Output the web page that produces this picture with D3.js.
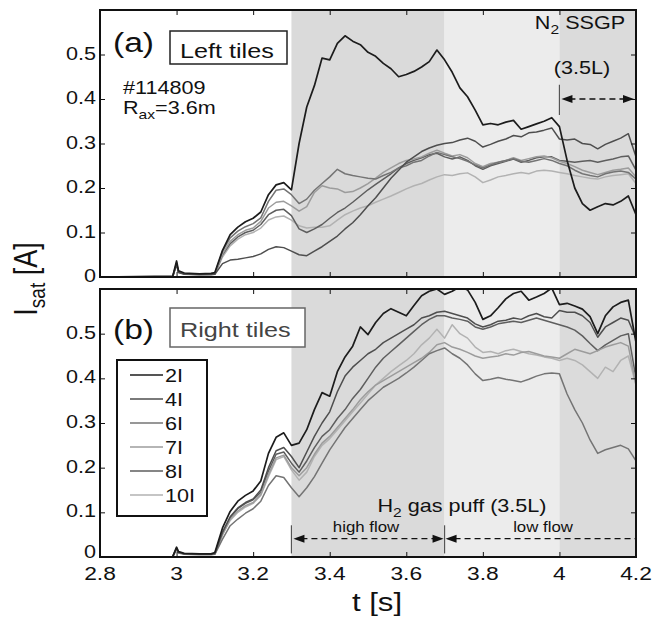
<!DOCTYPE html>
<html>
<head>
<meta charset="utf-8">
<script src="https://d3js.org/d3.v7.min.js"></script>
<style>
  body { margin: 0; background: #fff; }
  svg { display: block; font-family: 'Liberation Sans', Arial, sans-serif; }
  text { white-space: pre; }
</style>
</head>
<body>
<div id="chart"></div>
<script>
// time base (s): a few points before the rise, then 20 ms steps
const TIMES = [
  2.80, 2.99, 3.00, 3.005, 3.02, 3.06, 3.09,
  3.10, 3.12, 3.14, 3.16, 3.18, 3.20, 3.22, 3.24, 3.26, 3.28,
  3.30, 3.32, 3.34, 3.36, 3.38, 3.40, 3.42, 3.44, 3.46, 3.48,
  3.50, 3.52, 3.54, 3.56, 3.58, 3.60, 3.62, 3.64, 3.66, 3.68,
  3.70, 3.72, 3.74, 3.76, 3.78, 3.80, 3.82, 3.84, 3.86, 3.88,
  3.90, 3.92, 3.94, 3.96, 3.98, 4.00, 4.02, 4.04, 4.06, 4.08,
  4.10, 4.12, 4.14, 4.16, 4.18, 4.20
]

const PROBES = ['2I', '4I', '6I', '7I', '8I', '10I']
const PROBE_COLORS = ['#1c1c1c', '#4e4e4e', '#747474', '#9c9c9c', '#5e5e5e', '#b2b2b2']

// (a) left tiles, Isat [A]
const LEFT_2I = [
  0, 0.002, 0.036, 0.014, 0.009, 0.007, 0.008,
  0.010, 0.060, 0.095, 0.112, 0.124, 0.132, 0.146, 0.185, 0.207, 0.212,
  0.196, 0.300, 0.382, 0.430, 0.492, 0.488, 0.525, 0.542, 0.530, 0.522,
  0.505, 0.496, 0.480, 0.468, 0.450, 0.455, 0.462, 0.472, 0.484, 0.510,
  0.488, 0.460, 0.425, 0.405, 0.375, 0.342, 0.345, 0.342, 0.348, 0.352,
  0.332, 0.338, 0.344, 0.350, 0.358, 0.338, 0.262, 0.200, 0.165, 0.150,
  0.158, 0.165, 0.162, 0.170, 0.182, 0.140
]
const LEFT_4I = [
  0, 0.001, 0.028, 0.010, 0.006, 0.005, 0.005,
  0.006, 0.030, 0.038, 0.040, 0.043, 0.046, 0.052, 0.062, 0.068, 0.066,
  0.058, 0.050, 0.048, 0.058, 0.068, 0.080, 0.092, 0.108, 0.122, 0.140,
  0.160, 0.178, 0.200, 0.222, 0.240, 0.258, 0.270, 0.282, 0.290, 0.296,
  0.300, 0.302, 0.308, 0.312, 0.305, 0.292, 0.298, 0.305, 0.310, 0.318,
  0.315, 0.324, 0.326, 0.330, 0.335, 0.310, 0.308, 0.310, 0.300, 0.298,
  0.288, 0.298, 0.305, 0.312, 0.322, 0.270
]
const LEFT_6I = [
  0, 0.001, 0.032, 0.012, 0.008, 0.006, 0.007,
  0.008, 0.058, 0.088, 0.103, 0.113, 0.120, 0.133, 0.170, 0.195, 0.198,
  0.185, 0.165, 0.175, 0.195, 0.210, 0.225, 0.242, 0.232, 0.228, 0.225,
  0.222, 0.220, 0.228, 0.235, 0.245, 0.250, 0.258, 0.262, 0.272, 0.280,
  0.275, 0.270, 0.266, 0.260, 0.252, 0.245, 0.252, 0.258, 0.262, 0.266,
  0.260, 0.258, 0.262, 0.266, 0.262, 0.255, 0.250, 0.240, 0.232, 0.228,
  0.225, 0.232, 0.236, 0.238, 0.235, 0.220
]
const LEFT_7I = [
  0, 0.001, 0.030, 0.011, 0.007, 0.006, 0.006,
  0.007, 0.052, 0.080, 0.095, 0.105, 0.110, 0.125, 0.155, 0.168, 0.170,
  0.160, 0.148, 0.158, 0.190, 0.205, 0.200, 0.198, 0.190, 0.192, 0.200,
  0.210, 0.222, 0.235, 0.245, 0.255, 0.262, 0.265, 0.270, 0.278, 0.285,
  0.278, 0.272, 0.275, 0.268, 0.255, 0.248, 0.255, 0.258, 0.262, 0.268,
  0.262, 0.266, 0.270, 0.272, 0.268, 0.260, 0.255, 0.248, 0.240, 0.235,
  0.230, 0.235, 0.240, 0.242, 0.245, 0.225
]
const LEFT_8I = [
  0, 0.001, 0.030, 0.011, 0.007, 0.006, 0.006,
  0.007, 0.050, 0.075, 0.090, 0.100, 0.105, 0.118, 0.140, 0.150, 0.152,
  0.138, 0.108, 0.100, 0.108, 0.118, 0.132, 0.145, 0.155, 0.168, 0.182,
  0.196, 0.208, 0.220, 0.232, 0.245, 0.255, 0.262, 0.268, 0.275, 0.278,
  0.270, 0.265, 0.270, 0.262, 0.250, 0.242, 0.250, 0.255, 0.260, 0.265,
  0.258, 0.262, 0.268, 0.270, 0.270, 0.262, 0.260, 0.258, 0.260, 0.262,
  0.258, 0.262, 0.265, 0.270, 0.272, 0.240
]
const LEFT_10I = [
  0, 0.001, 0.029, 0.010, 0.007, 0.005, 0.006,
  0.006, 0.045, 0.070, 0.085, 0.095, 0.100, 0.110, 0.128, 0.135, 0.137,
  0.128, 0.115, 0.110, 0.112, 0.112, 0.115, 0.128, 0.140, 0.148, 0.155,
  0.160, 0.168, 0.175, 0.182, 0.190, 0.198, 0.205, 0.210, 0.218, 0.225,
  0.230, 0.228, 0.232, 0.234, 0.225, 0.212, 0.218, 0.225, 0.228, 0.232,
  0.235, 0.232, 0.238, 0.240, 0.238, 0.235, 0.232, 0.228, 0.225, 0.222,
  0.220, 0.225, 0.228, 0.230, 0.232, 0.210
]

// (b) right tiles, Isat [A]
const RIGHT_2I = [
  0, 0.001, 0.022, 0.012, 0.008, 0.007, 0.007,
  0.010, 0.065, 0.102, 0.125, 0.138, 0.148, 0.170, 0.232, 0.268, 0.278,
  0.250, 0.255, 0.285, 0.330, 0.368, 0.360, 0.415, 0.448, 0.472, 0.515,
  0.498, 0.525, 0.545, 0.556, 0.548, 0.540, 0.563, 0.585, 0.595, 0.600,
  0.588, 0.595, 0.605, 0.598, 0.570, 0.532, 0.540, 0.558, 0.578, 0.590,
  0.595, 0.575, 0.582, 0.590, 0.602, 0.565, 0.568, 0.562, 0.555, 0.538,
  0.500, 0.540, 0.560, 0.570, 0.575, 0.480
]
const RIGHT_4I = [
  0, 0.001, 0.020, 0.011, 0.007, 0.006, 0.006,
  0.008, 0.055, 0.090, 0.110, 0.122, 0.130, 0.150, 0.200, 0.238, 0.245,
  0.225, 0.200, 0.235, 0.270, 0.300, 0.325, 0.370, 0.405, 0.425, 0.440,
  0.455, 0.465, 0.480, 0.490, 0.500, 0.510, 0.520, 0.535, 0.540, 0.548,
  0.550, 0.545, 0.540, 0.535, 0.522, 0.515, 0.520, 0.528, 0.530, 0.535,
  0.532, 0.540, 0.545, 0.538, 0.535, 0.552, 0.548, 0.548, 0.540, 0.525,
  0.492, 0.515, 0.525, 0.535, 0.530, 0.490
]
const RIGHT_6I = [
  0, 0.001, 0.017, 0.009, 0.006, 0.005, 0.005,
  0.006, 0.040, 0.070, 0.085, 0.098, 0.108, 0.125, 0.160, 0.182, 0.178,
  0.155, 0.135, 0.155, 0.180, 0.210, 0.240, 0.265, 0.290, 0.310, 0.330,
  0.350, 0.365, 0.380, 0.390, 0.400, 0.412, 0.425, 0.440, 0.455, 0.462,
  0.468, 0.455, 0.445, 0.430, 0.410, 0.395, 0.398, 0.402, 0.398, 0.395,
  0.392, 0.398, 0.405, 0.410, 0.412, 0.410, 0.365, 0.330, 0.300, 0.262,
  0.232, 0.240, 0.245, 0.250, 0.242, 0.215
]
const RIGHT_7I = [
  0, 0.001, 0.018, 0.010, 0.007, 0.006, 0.006,
  0.007, 0.050, 0.085, 0.103, 0.115, 0.122, 0.140, 0.185, 0.222, 0.228,
  0.200, 0.182, 0.200, 0.230, 0.255, 0.270, 0.290, 0.310, 0.330, 0.352,
  0.370, 0.385, 0.395, 0.405, 0.415, 0.425, 0.435, 0.445, 0.458, 0.475,
  0.480, 0.470, 0.465, 0.458, 0.450, 0.445, 0.448, 0.450, 0.455, 0.452,
  0.458, 0.460, 0.455, 0.450, 0.448, 0.445, 0.455, 0.465, 0.460, 0.455,
  0.462, 0.470, 0.475, 0.480, 0.472, 0.385
]
const RIGHT_8I = [
  0, 0.001, 0.019, 0.010, 0.007, 0.006, 0.006,
  0.008, 0.055, 0.088, 0.108, 0.120, 0.128, 0.145, 0.192, 0.230, 0.235,
  0.210, 0.190, 0.215, 0.245, 0.270, 0.285, 0.310, 0.330, 0.355, 0.375,
  0.400, 0.425, 0.445, 0.460, 0.475, 0.490, 0.505, 0.520, 0.532, 0.540,
  0.540, 0.535, 0.532, 0.528, 0.515, 0.510, 0.515, 0.522, 0.525, 0.528,
  0.525, 0.530, 0.535, 0.530, 0.525, 0.520, 0.515, 0.508, 0.495, 0.478,
  0.462, 0.475, 0.485, 0.495, 0.500, 0.400
]
const RIGHT_10I = [
  0, 0.001, 0.018, 0.010, 0.007, 0.006, 0.006,
  0.007, 0.050, 0.082, 0.100, 0.112, 0.120, 0.138, 0.180, 0.218, 0.225,
  0.195, 0.172, 0.190, 0.225, 0.250, 0.265, 0.285, 0.305, 0.325, 0.345,
  0.365, 0.385, 0.400, 0.415, 0.428, 0.440, 0.455, 0.475, 0.490, 0.510,
  0.490, 0.520, 0.500, 0.490, 0.470, 0.458, 0.460, 0.455, 0.462, 0.465,
  0.460, 0.455, 0.452, 0.448, 0.445, 0.440, 0.445, 0.440, 0.430, 0.415,
  0.400, 0.425, 0.415, 0.440, 0.450, 0.385
]

const LEFT_SERIES = [LEFT_2I, LEFT_4I, LEFT_6I, LEFT_7I, LEFT_8I, LEFT_10I]
const RIGHT_SERIES = [RIGHT_2I, RIGHT_4I, RIGHT_6I, RIGHT_7I, RIGHT_8I, RIGHT_10I]

const X_TICKS = [2.8, 3.0, 3.2, 3.4, 3.6, 3.8, 4.0, 4.2]
const X_TICK_LABELS = ['2.8', '3', '3.2', '3.4', '3.6', '3.8', '4', '4.2']
const Y_TICKS = [0, 0.1, 0.2, 0.3, 0.4, 0.5, 0.6]
const Y_TICK_LABELS = ['0', '0.1', '0.2', '0.3', '0.4', '0.5', '']

// shaded time windows: H2 high flow, H2 low flow, N2 SSGP
const BANDS = [[3.3, 3.7, '#dadada'], [3.7, 4.0, '#ececec'], [4.0, 4.2, '#dbdbdb']]

const WIDTH = 653
const HEIGHT = 619
const SX = 1.2 // the original lettering is set wide

const svg = d3.select('#chart').append('svg')
  .attr('width', WIDTH)
  .attr('height', HEIGHT)

const x = d3.scaleLinear().domain([2.8, 4.2]).range([100, 636])

function addText (parent, px, py, size, anchor) {
  return parent.append('text')
    .attr('transform', `translate(${px},${py}) scale(${SX},1)`)
    .attr('text-anchor', anchor || 'start')
    .attr('font-size', size)
    .attr('fill', '#111')
}

function arrowHead (parent, tipX, py, dir) {
  const len = 11
  const half = 4
  parent.append('path')
    .attr('d', `M${tipX},${py} L${tipX - dir * len},${py - half} L${tipX - dir * len},${py + half} Z`)
    .attr('fill', '#111')
}

function drawPanel (id, top, bottom, series, showXLabels) {
  const y = d3.scaleLinear().domain([0, 0.6]).range([bottom, top])
  const g = svg.append('g').attr('class', `panel ${id}`)

  g.append('clipPath').attr('id', `clip-${id}`)
    .append('rect')
    .attr('x', x.range()[0]).attr('y', top)
    .attr('width', x.range()[1] - x.range()[0]).attr('height', bottom - top)

  g.selectAll('.band').data(BANDS).enter()
    .append('rect')
    .attr('class', 'band')
    .attr('x', (d) => x(d[0]))
    .attr('y', top)
    .attr('width', (d) => x(d[1]) - x(d[0]))
    .attr('height', bottom - top)
    .attr('fill', (d) => d[2])

  const line = d3.line()
    .x((d, i) => x(TIMES[i]))
    .y((d) => y(d))

  const order = d3.range(series.length).reverse()
  g.append('g').attr('clip-path', `url(#clip-${id})`)
    .selectAll('path').data(order).enter()
    .append('path')
    .attr('d', (k) => line(series[k]))
    .attr('fill', 'none')
    .attr('stroke', (k) => PROBE_COLORS[k])
    .attr('stroke-width', (k) => k === 0 ? 1.7 : 1.5)
    .attr('stroke-linejoin', 'round')

  // inward ticks on all four sides
  const tick = 5
  g.append('g').attr('transform', `translate(0,${bottom})`)
    .call(d3.axisBottom(x).tickValues(X_TICKS).tickSize(-tick).tickFormat(''))
  g.append('g').attr('transform', `translate(0,${top})`)
    .call(d3.axisTop(x).tickValues(X_TICKS).tickSize(-tick).tickFormat(''))
  g.append('g').attr('transform', `translate(${x.range()[0]},0)`)
    .call(d3.axisLeft(y).tickValues(Y_TICKS).tickSize(-tick).tickFormat(''))
  g.append('g').attr('transform', `translate(${x.range()[1]},0)`)
    .call(d3.axisRight(y).tickValues(Y_TICKS).tickSize(-tick).tickFormat(''))
  g.selectAll('.domain').remove()
  g.selectAll('.tick line').attr('stroke', '#111')

  g.append('rect')
    .attr('x', x.range()[0]).attr('y', top)
    .attr('width', x.range()[1] - x.range()[0]).attr('height', bottom - top)
    .attr('fill', 'none')
    .attr('stroke', '#111')
    .attr('stroke-width', 2)

  Y_TICKS.forEach((v, i) => {
    // the zero of the lower panel sits a little high so it clears "2.8"
    const lift = showXLabels && v === 0 ? 4 : 0
    addText(g, 96, y(v) + 5 - lift, 18, 'end').text(Y_TICK_LABELS[i])
  })

  if (showXLabels) {
    X_TICKS.forEach((v, i) => {
      addText(g, x(v), bottom + 23, 19, 'middle').text(X_TICK_LABELS[i])
    })
  }

  return { g, y }
}

// ---- panel (a)
const a = drawPanel('a', 10, 277, LEFT_SERIES, false)
addText(a.g, 113, 52, 28, 'start').text('(a)')
a.g.append('rect')
  .attr('x', 170).attr('y', 31).attr('width', 117).attr('height', 33)
  .attr('fill', '#fff').attr('stroke', '#222').attr('stroke-width', 1.5)
addText(a.g, 180, 58, 21, 'start').text('Left tiles')
addText(a.g, 123, 94, 18, 'start').text('#114809')
const rax = addText(a.g, 123, 114, 18, 'start')
rax.append('tspan').text('R')
rax.append('tspan').attr('font-size', 13).attr('dy', 5).text('ax')
rax.append('tspan').attr('dy', -5).text('=3.6m')

const n2 = addText(a.g, 580, 29, 18, 'middle')
n2.append('tspan').text('N')
n2.append('tspan').attr('font-size', 13).attr('dy', 5).text('2')
n2.append('tspan').attr('dy', -5).text(' SSGP')
addText(a.g, 582, 74, 18, 'middle').text('(3.5L)')

const ssgpY = a.y(0.4)
a.g.append('line')
  .attr('x1', x(4.0)).attr('x2', x(4.0))
  .attr('y1', a.y(0.432)).attr('y2', a.y(0.364))
  .attr('stroke', '#555').attr('stroke-width', 1.2)
a.g.append('line')
  .attr('x1', x(4.0) + 10).attr('x2', x(4.2) - 10)
  .attr('y1', ssgpY).attr('y2', ssgpY)
  .attr('stroke', '#111').attr('stroke-width', 1.3)
  .attr('stroke-dasharray', '6,4')
arrowHead(a.g, x(4.0) + 2, ssgpY, -1)
arrowHead(a.g, x(4.2) - 2, ssgpY, 1)

// ---- panel (b)
const b = drawPanel('b', 289, 557, RIGHT_SERIES, true)
addText(b.g, 113, 339, 28, 'start').text('(b)')
b.g.append('rect')
  .attr('x', 170).attr('y', 308).attr('width', 135).attr('height', 39)
  .attr('fill', '#fff').attr('stroke', '#666').attr('stroke-width', 1.5)
addText(b.g, 180, 337, 21, 'start').attr('fill', '#444').text('Right tiles')

// legend
const legend = b.g.append('g').attr('class', 'legend')
legend.append('rect')
  .attr('x', 117).attr('y', 360).attr('width', 90).attr('height', 156)
  .attr('fill', '#fff').attr('stroke', '#111').attr('stroke-width', 2)
PROBES.forEach((name, i) => {
  const ly = 375 + i * 24
  legend.append('line')
    .attr('x1', 130).attr('x2', 163).attr('y1', ly).attr('y2', ly)
    .attr('stroke', PROBE_COLORS[i]).attr('stroke-width', 1.7)
  addText(legend, 165, ly + 6.5, 18, 'start').text(name)
})

const h2 = addText(b.g, 462, 512, 18, 'middle')
h2.append('tspan').text('H')
h2.append('tspan').attr('font-size', 13).attr('dy', 5).text('2')
h2.append('tspan').attr('dy', -5).text(' gas puff (3.5L)')

const flowY = b.y(0.041)
;[3.3, 3.7].forEach((t) => {
  b.g.append('line')
    .attr('x1', x(t)).attr('x2', x(t))
    .attr('y1', b.y(0.071)).attr('y2', b.y(0.008))
    .attr('stroke', '#555').attr('stroke-width', 1.2)
})
b.g.append('line')
  .attr('x1', x(3.3) + 10).attr('x2', x(3.7) - 10)
  .attr('y1', flowY).attr('y2', flowY)
  .attr('stroke', '#111').attr('stroke-width', 1.3)
  .attr('stroke-dasharray', '6,4')
b.g.append('line')
  .attr('x1', x(3.7) + 10).attr('x2', x(4.2))
  .attr('y1', flowY).attr('y2', flowY)
  .attr('stroke', '#111').attr('stroke-width', 1.3)
  .attr('stroke-dasharray', '6,4')
arrowHead(b.g, x(3.3) + 2, flowY, -1)
arrowHead(b.g, x(3.7) - 1, flowY, 1)
arrowHead(b.g, x(3.7) + 1, flowY, -1)
addText(b.g, 366, 532, 14, 'middle').text('high flow')
addText(b.g, 543, 532, 14, 'middle').text('low flow')

// axis titles
addText(svg, 377, 611, 26, 'middle').text('t [s]')
const ylab = svg.append('text')
  .attr('transform', 'translate(37,279) rotate(-90) scale(1,1.2)')
  .attr('text-anchor', 'middle')
  .attr('font-size', 27)
  .attr('fill', '#111')
ylab.append('tspan').text('I')
ylab.append('tspan').attr('font-size', 19).attr('dy', 7).text('sat')
ylab.append('tspan').attr('dy', -7).text(' [A]')
</script>
</body>
</html>
